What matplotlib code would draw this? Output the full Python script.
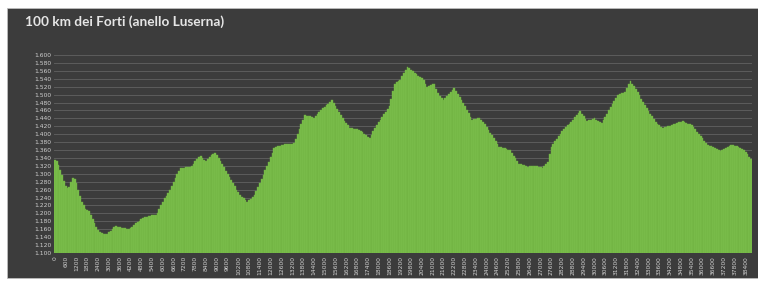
import numpy as np
import matplotlib
matplotlib.use("Agg")
import matplotlib.pyplot as plt
from matplotlib.patches import Rectangle

# elevation profile, one value every 100 m
elev = [
    1335, 1332, 1322, 1310, 1296, 1282, 1270, 1265, 1266, 1280,
    1290, 1288, 1278, 1260, 1243, 1230, 1220, 1212, 1209, 1205,
    1196, 1186, 1176, 1166, 1158, 1154, 1151, 1149, 1148, 1149,
    1152, 1156, 1160, 1165, 1169, 1166, 1165, 1164, 1163, 1162,
    1161, 1161, 1163, 1166, 1170, 1175, 1179, 1182, 1185, 1188,
    1190, 1192, 1193, 1194, 1195, 1195, 1196, 1202, 1211, 1220,
    1229, 1238, 1245, 1251, 1260, 1270, 1280, 1290, 1299, 1307,
    1314, 1315, 1315, 1316, 1316, 1318, 1320, 1326, 1332, 1338,
    1343, 1345, 1341, 1336, 1333, 1338, 1343, 1347, 1350, 1352,
    1348, 1341, 1333, 1325, 1316, 1308, 1300, 1292, 1284, 1276,
    1268, 1260, 1253, 1246, 1242, 1238, 1234, 1230, 1233, 1237,
    1241, 1246, 1256, 1266, 1277, 1287, 1298, 1309, 1320, 1331,
    1342, 1353, 1364, 1367, 1369, 1371, 1373, 1373, 1374, 1374,
    1375, 1375, 1376, 1377, 1388, 1400, 1413, 1425, 1437, 1448,
    1447, 1446, 1445, 1443, 1442, 1446, 1451, 1456, 1461, 1465,
    1469, 1473, 1477, 1482, 1486, 1479, 1471, 1463, 1455, 1448,
    1441, 1434, 1428, 1422, 1416, 1415, 1414, 1413, 1412, 1411,
    1408, 1405, 1401, 1398, 1394, 1390, 1398, 1407, 1415, 1423,
    1430, 1437, 1443, 1450, 1457, 1463, 1470, 1488, 1508, 1528,
    1531, 1534, 1537, 1546, 1554, 1562, 1570, 1566, 1562, 1559,
    1555, 1552, 1548, 1544, 1541, 1537, 1528, 1518, 1521, 1524,
    1526, 1528, 1515, 1503, 1497, 1492, 1486, 1491, 1496, 1501,
    1506, 1511, 1516, 1509, 1501, 1494, 1486, 1478, 1470, 1461,
    1453, 1444, 1436, 1438, 1439, 1441, 1442, 1437, 1432, 1425,
    1418, 1411, 1404, 1397, 1390, 1382, 1375, 1368, 1367, 1365,
    1364, 1363, 1361, 1360, 1353, 1346, 1340, 1333, 1326, 1324,
    1322, 1321, 1319, 1318, 1319, 1319, 1320, 1320, 1319, 1317,
    1316, 1315, 1320, 1326, 1331, 1350, 1368, 1375, 1382, 1389,
    1395, 1401, 1408, 1413, 1418, 1422, 1427, 1432, 1437, 1443,
    1448, 1454, 1459, 1452, 1446, 1439, 1433, 1435, 1437, 1438,
    1440, 1437, 1434, 1431, 1428, 1436, 1444, 1452, 1461, 1469,
    1477, 1484, 1492, 1499, 1501, 1503, 1505, 1507, 1516, 1526,
    1535, 1528, 1521, 1514, 1507, 1499, 1490, 1482, 1473, 1465,
    1458, 1452, 1445, 1439, 1432, 1426, 1423, 1419, 1416, 1417,
    1419, 1420, 1421, 1423, 1425, 1426, 1428, 1430, 1431, 1433,
    1431, 1429, 1427, 1425, 1423, 1417, 1412, 1406, 1401, 1395,
    1390, 1384, 1379, 1373, 1371, 1370, 1368, 1366, 1363, 1361,
    1358, 1361, 1363, 1366, 1368, 1371, 1373, 1372, 1371, 1370,
    1367, 1365, 1362, 1359, 1356, 1350, 1343, 1337,
]
dist = [i * 100 for i in range(len(elev))]
y_ticks = list(range(1100, 1601, 20))

title = "100 km dei Forti (anello Luserna)"
bg = "#3c3c3c"
green = "#7cbf4c"

fig = plt.figure(figsize=(7.58, 2.83), dpi=100, facecolor="white")
# dark chart panel with a thin white margin
fig.patches.append(Rectangle((7 / 758, 5 / 283), 751 / 758, 270 / 283,
                             transform=fig.transFigure, facecolor=bg,
                             edgecolor="#bdbdbd", linewidth=0.6, zorder=-5))

ax = fig.add_axes([54 / 758, 30 / 283, 698 / 758, 198 / 283])
ax.set_facecolor(bg)
ax.set_zorder(2)

x = np.arange(len(elev))
# full-width bars, thin darker edge gives the faint vertical stripes
ax.bar(x, elev, width=1.0, color=green, edgecolor="#6cae3f",
       linewidth=0.3, zorder=2)

ax.set_ylim(1100, 1600)
ax.set_xlim(-0.5, len(elev) - 0.5)
ax.set_yticks(y_ticks)
ax.set_yticklabels([f"{v:,}".replace(",", ".") for v in y_ticks])
ax.grid(axis="y", color="#5c5c5c", linewidth=0.7, zorder=1)

ax.set_xticks(x[::6])
ax.set_xticklabels([str(d) for d in dist[::6]], rotation=90)

ax.tick_params(axis="both", length=0, colors="#d0d0d0", pad=2)
ax.tick_params(axis="y", labelsize=4.3)
ax.tick_params(axis="x", labelsize=4.3)
for s in ax.spines.values():
    s.set_visible(False)

fig.text(25 / 758, 1 - 22 / 283, title, color="#e6e6e6", fontsize=9.8,
         fontweight="bold", family=["Lato", "DejaVu Sans"], va="center")

fig.savefig("out.png", dpi=100, facecolor="white")
